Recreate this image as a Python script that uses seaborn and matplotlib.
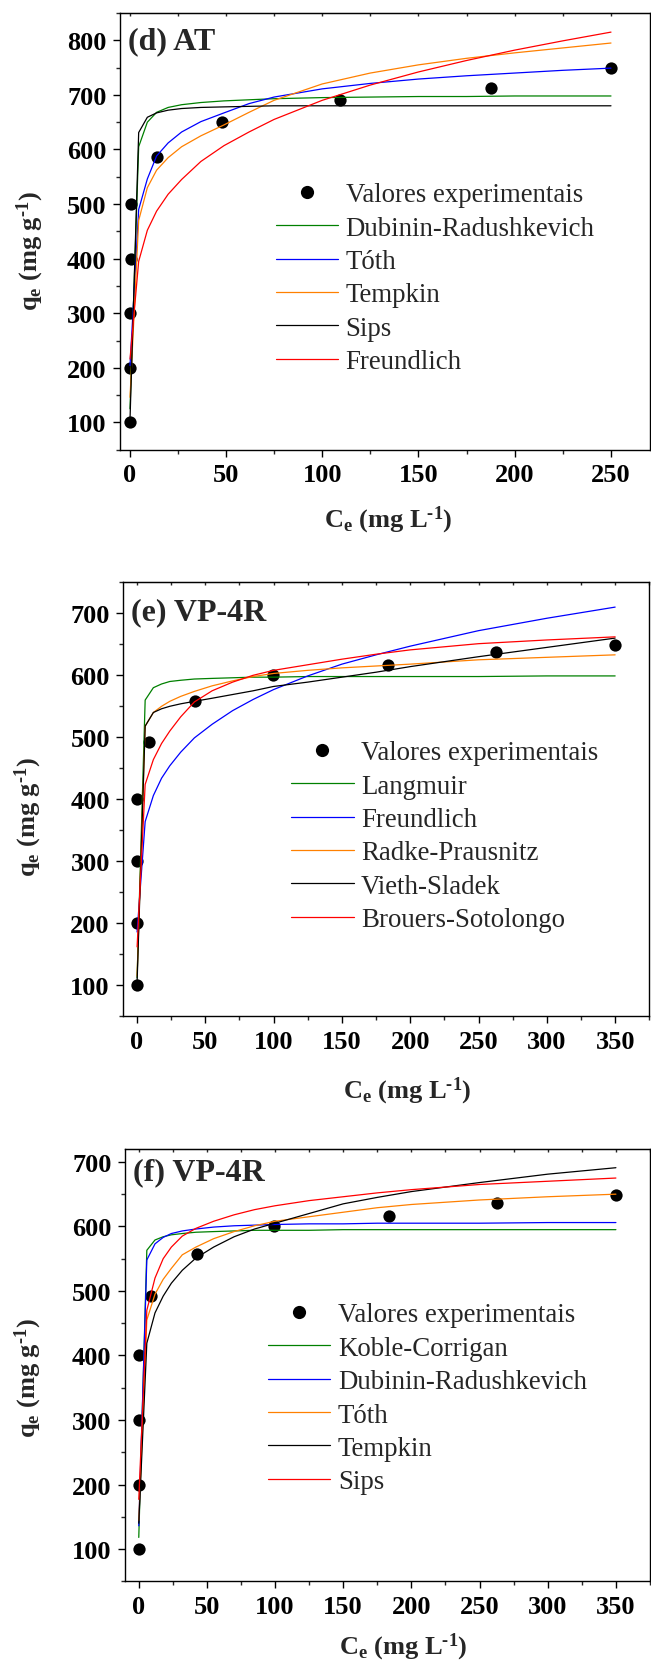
import matplotlib
matplotlib.use("Agg")
import matplotlib.pyplot as plt
from matplotlib.ticker import MultipleLocator
from matplotlib.lines import Line2D
import pandas as pd
import seaborn as sns

# ---------------- (d) AT ----------------
ce_at = [0.05, 0.2, 0.4, 0.5, 0.9, 14.0, 48.0, 109.5, 187.5, 250.0]
qe_at = [100, 200, 300, 400, 500, 586, 651, 690, 712, 749]
c_fit_at = [0.2, 4.7, 9.2, 14, 20, 27, 37, 49, 62, 75, 100, 125, 150, 175, 200, 225, 250]
dubinin_at = [125, 605, 650, 668, 677, 682, 686, 689, 691, 693, 695, 696, 697, 697, 698, 698, 698]
toth_at = [204, 490, 546, 588, 612, 632, 651, 667, 684, 696, 711, 721, 729, 735, 740, 745, 749]
tempkin_at = [146, 470, 530, 562, 585, 605, 625, 645, 668, 690, 720, 740, 755, 767, 777, 786, 795]
sips_at = [105, 631, 659, 667, 672, 675, 677, 678, 679, 680, 680, 680, 680, 680, 680, 680, 680]
freundlich_at = [216, 395, 452, 487, 518, 545, 578, 607, 632, 655, 690, 718, 742, 763, 782, 799, 815]

# ---------------- VP-4R (e, f) ----------------
ce_vp = [0.05, 0.1, 0.1, 0.15, 9.0, 42.7, 99.5, 183.7, 262.6, 350.0]
qe_vp = [100, 200, 300, 400, 492, 558, 601, 616, 637, 649]
c_fit_vp = [0.1, 6, 12, 18, 24, 32, 42, 55, 70, 85, 100, 125, 150, 175, 200, 250, 300, 350]

langmuir_e = [112, 560, 580, 586, 590, 592, 594, 595, 596, 597, 597, 598, 598, 598, 598, 598, 599, 599]
freundlich_e = [186, 364, 406, 434, 454, 476, 499, 521, 543, 561, 577, 599, 618, 633, 647, 672, 692, 710]
radke_e = [115, 518, 540, 550, 558, 566, 574, 583, 591, 598, 603, 608, 612, 615, 618, 625, 629, 633]
vieth_e = [105, 518, 540, 546, 550, 554, 558, 563, 569, 575, 582, 589, 597, 605, 614, 630, 645, 660]
brouers_e = [162, 424, 464, 490, 510, 533, 557, 575, 589, 600, 608, 617, 626, 634, 641, 651, 657, 662]

koble_f = [118, 563, 579, 584, 587, 589, 591, 592, 593, 594, 594, 594, 595, 595, 595, 595, 595, 595]
dubinin_f = [136, 548, 573, 583, 589, 593, 596, 599, 601, 602, 603, 604, 604, 605, 605, 605, 606, 606]
toth_f = [144, 455, 495, 518, 535, 556, 568, 581, 592, 601, 608, 615, 622, 629, 634, 641, 646, 650]
tempkin_f = [140, 419, 466, 492, 512, 532, 551, 568, 584, 596, 605, 620, 635, 645, 654, 668, 681, 691]
sips_f = [177, 470, 520, 550, 568, 585, 597, 608, 618, 626, 632, 640, 646, 652, 657, 665, 670, 675]

GREEN, BLUE, ORANGE, BLACK, RED = "#008000", "#0000FF", "#FF8000", "#000000", "#FF0000"

panels = [
    dict(title="(d) AT", ce=ce_at, qe=qe_at, cfit=c_fit_at,
         models=[("Dubinin-Radushkevich", dubinin_at, GREEN),
                 ("Tóth", toth_at, BLUE),
                 ("Tempkin", tempkin_at, ORANGE),
                 ("Sips", sips_at, BLACK),
                 ("Freundlich", freundlich_at, RED)],
         xlim=(-5, 270), ylim=(50, 850), xmaj=50, ymaj=100,
         rect=[120 / 651, 1 - 450.7 / 1665, 529.5 / 651, 436.7 / 1665],
         leg=(0.294, 0.612), title_y=0.919,
         ylab=(-0.1405, 0.457), xlab=(0.506, -0.124)),
    dict(title="(e) VP-4R", ce=ce_vp, qe=qe_vp, cfit=c_fit_vp,
         models=[("Langmuir", langmuir_e, GREEN),
                 ("Freundlich", freundlich_e, BLUE),
                 ("Radke-Prausnitz", radke_e, ORANGE),
                 ("Vieth-Sladek", vieth_e, BLACK),
                 ("Brouers-Sotolongo", brouers_e, RED)],
         xlim=(-10, 375), ylim=(50, 750), xmaj=50, ymaj=100,
         rect=[123.3 / 651, 1 - 1017.3 / 1665, 526 / 651, 434 / 1665],
         leg=(0.319, 0.636), title_y=0.9155,
         ylab=(-0.1515, 0.4615), xlab=(0.539, -0.135)),
    dict(title="(f) VP-4R", ce=ce_vp, qe=qe_vp, cfit=c_fit_vp,
         models=[("Koble-Corrigan", koble_f, GREEN),
                 ("Dubinin-Radushkevich", dubinin_f, BLUE),
                 ("Tóth", toth_f, ORANGE),
                 ("Tempkin", tempkin_f, BLACK),
                 ("Sips", sips_f, RED)],
         xlim=(-10, 375), ylim=(50, 720), xmaj=50, ymaj=100,
         rect=[125 / 651, 1 - 1582.3 / 1665, 525 / 651, 432.3 / 1665],
         leg=(0.272, 0.645), title_y=0.929,
         ylab=(-0.155, 0.4726), xlab=(0.53, -0.115)),
]

sns.set_style("ticks")
plt.rcParams["font.family"] = ["Liberation Serif", "DejaVu Serif"]
plt.rcParams["mathtext.fontset"] = "custom"
plt.rcParams["mathtext.rm"] = "Liberation Serif:bold"
plt.rcParams["mathtext.bf"] = "Liberation Serif:bold"
plt.rcParams["mathtext.it"] = "Liberation Serif:bold"
plt.rcParams["mathtext.default"] = "bf"

fig = plt.figure(figsize=(6.51, 16.65), dpi=100)

TICK_FS = 19
LEG_FS = 19.4

for p in panels:
    ax = fig.add_axes(p["rect"])
    # fitted isotherm curves in long form
    rows = []
    for name, vals, _ in p["models"]:
        for c, q in zip(p["cfit"], vals):
            rows.append({"Ce": c, "qe": q, "model": name})
    fits = pd.DataFrame(rows)
    names = [m[0] for m in p["models"]]
    pal = {m[0]: m[2] for m in p["models"]}
    sns.scatterplot(x=p["ce"], y=p["qe"], color="black", s=78, linewidth=0,
                    ax=ax, zorder=2, legend=False)
    sns.lineplot(data=fits, x="Ce", y="qe", hue="model", hue_order=names,
                 palette=pal, estimator=None, sort=False, linewidth=0.9,
                 ax=ax, legend=False, zorder=3)

    ax.set_xlim(*p["xlim"])
    ax.set_ylim(*p["ylim"])
    ax.set_xticks(list(range(0, int(p["xlim"][1]) + 1, p["xmaj"])))
    ax.set_yticks(list(range(100, int(p["ylim"][1]) + 1, p["ymaj"])))
    ax.xaxis.set_minor_locator(MultipleLocator(p["xmaj"] / 2))
    ax.yaxis.set_minor_locator(MultipleLocator(p["ymaj"] / 2))

    for s in ax.spines.values():
        s.set_visible(True)
        s.set_linewidth(1.0)
        s.set_color("black")
    ax.tick_params(which="major", direction="out", length=5, width=1.0,
                   pad=4.7, labelsize=TICK_FS, colors="black")
    ax.tick_params(which="minor", direction="out", length=3, width=1.0)
    for lab in ax.get_xticklabels() + ax.get_yticklabels():
        lab.set_fontweight("bold")

    top = ax.secondary_xaxis("top")
    top.xaxis.set_major_locator(MultipleLocator(p["xmaj"] / 2))
    top.tick_params(direction="in", length=2, width=1.0, labeltop=False)

    ax.set_xlabel(r"C$_e$ (mg L$^{\text{-}1}$)", fontsize=TICK_FS,
                  fontweight="bold")
    ax.set_ylabel(r"q$_e$ (mg g$^{\text{-}1}$)", fontsize=TICK_FS,
                  fontweight="bold")
    ax.xaxis.set_label_coords(*p["xlab"])
    ax.yaxis.set_label_coords(*p["ylab"])

    ax.text(0.015, p["title_y"], p["title"], transform=ax.transAxes,
            fontsize=23, fontweight="bold", va="baseline", ha="left")

    handles = [Line2D([], [], ls="", marker="o", markersize=9.5, color="black",
                      markeredgewidth=0)]
    handles += [Line2D([], [], color=c, linewidth=0.9) for _, _, c in p["models"]]
    labels = ["Valores experimentais"] + names
    ax.legend(handles, labels, loc="upper left", bbox_to_anchor=p["leg"],
              frameon=False, fontsize=LEG_FS, handlelength=2.32,
              handletextpad=0.28, labelspacing=0.31, borderpad=0,
              borderaxespad=0)

fig.savefig("out.png", dpi=100)
